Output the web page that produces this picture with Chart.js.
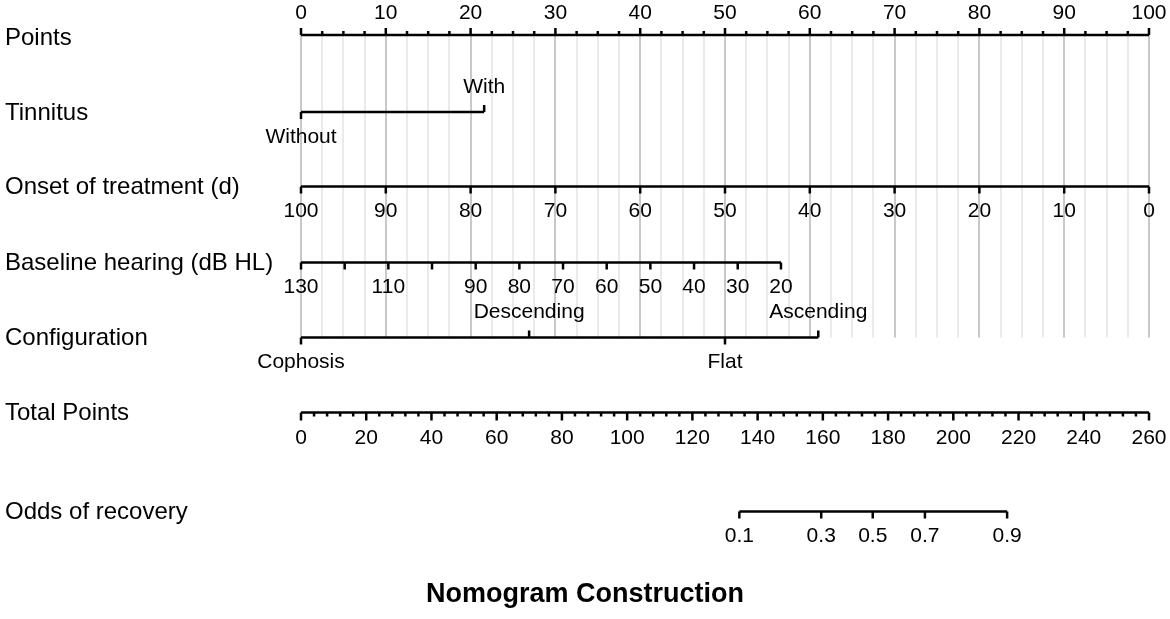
<!DOCTYPE html>
<html>
<head>
<meta charset="utf-8">
<script src="https://cdn.jsdelivr.net/npm/chart.js@4.4.1/dist/chart.umd.min.js"></script>
<style>
  html, body { margin: 0; padding: 0; background: #fff; }
  canvas { display: block; }
</style>
</head>
<body>
<canvas id="nomogram" width="1170" height="619"></canvas>
<script>
// --- Data ---
const pointsTicks = [0, 10, 20, 30, 40, 50, 60, 70, 80, 90, 100];

const tinnitusLabels = ['Without', 'With'];
const tinnitusPoints = [0, 21.6];

const onsetTicks = [100, 90, 80, 70, 60, 50, 40, 30, 20, 10, 0];
const onsetPoints = [0, 10, 20, 30, 40, 50, 60, 70, 80, 90, 100];

const hearingTicks = [130, 120, 110, 100, 90, 80, 70, 60, 50, 40, 30, 20];
const hearingLabels = ['130', '', '110', '', '90', '80', '70', '60', '50', '40', '30', '20'];
const hearingPoints = [0, 5.15, 10.3, 15.45, 20.6, 25.75, 30.9, 36.05, 41.2, 46.35, 51.5, 56.6];

const configLabels = ['Cophosis', 'Descending', 'Flat', 'Ascending'];
const configPoints = [0, 26.9, 50.0, 61.0];

const totalTicks = [0, 20, 40, 60, 80, 100, 120, 140, 160, 180, 200, 220, 240, 260];

const oddsLabels = ['0.1', '0.3', '0.5', '0.7', '0.9'];
const oddsTotalPoints = [134.4, 159.5, 175.3, 191.3, 216.5];

const rowNames = ['Points', 'Tinnitus', 'Onset of treatment (d)', 'Baseline hearing (dB HL)',
                  'Configuration', 'Total Points', 'Odds of recovery'];

// --- Layout (pixel rows, the y scale runs 0..619 top to bottom) ---
const ROW_Y = [35, 112, 186.5, 262.5, 337.5, 412.5, 511.5];
const NAME_SHIFT = [2, 0, -0.5, 0, -0.5, 0, 0];
const FONT = "'Liberation Sans', Arial, sans-serif";
const TICK_LEN = 7;
const MINOR_LEN = 4;
const LABEL_GAP = 24;

function axisLine(x0, x1, y, axisId) {
    return {
        data: [{ x: x0, y: y }, { x: x1, y: y }],
        xAxisID: axisId,
        showLine: true,
        borderColor: '#000',
        borderWidth: 2.5,
        pointRadius: 0,
        borderCapStyle: 'butt'
    };
}

const datasets = [
    axisLine(pointsTicks[0], pointsTicks[pointsTicks.length - 1], ROW_Y[0], 'x'),
    axisLine(tinnitusPoints[0], tinnitusPoints[tinnitusPoints.length - 1], ROW_Y[1], 'x'),
    axisLine(onsetPoints[0], onsetPoints[onsetPoints.length - 1], ROW_Y[2], 'x'),
    axisLine(hearingPoints[0], hearingPoints[hearingPoints.length - 1], ROW_Y[3], 'x'),
    axisLine(configPoints[0], configPoints[configPoints.length - 1], ROW_Y[4], 'x'),
    axisLine(totalTicks[0], totalTicks[totalTicks.length - 1], ROW_Y[5], 'xt'),
    axisLine(oddsTotalPoints[0], oddsTotalPoints[oddsTotalPoints.length - 1], ROW_Y[6], 'xt')
];

// --- Drawing helpers ---
function tick(ctx, px, y, len, up) {
    ctx.beginPath();
    ctx.moveTo(px, y);
    ctx.lineTo(px, up ? y - len : y + len);
    ctx.stroke();
}

function label(ctx, text, px, y) {
    ctx.fillText(text, px, y);
}

const gridPlugin = {
    id: 'nomoGrid',
    beforeDatasetsDraw(chart) {
        const ctx = chart.ctx;
        const x = chart.scales.x;
        const y = chart.scales.y;
        const top = y.getPixelForValue(ROW_Y[0]);
        const bottom = y.getPixelForValue(ROW_Y[4]);
        ctx.save();
        ctx.lineWidth = 2;
        for (let v = 0; v <= 100; v += 2.5) {
            const px = Math.round(x.getPixelForValue(v));
            ctx.strokeStyle = (v % 10 === 0) ? '#c8c8c8' : '#eaeaea';
            ctx.beginPath();
            ctx.moveTo(px, top);
            ctx.lineTo(px, bottom);
            ctx.stroke();
        }
        ctx.restore();
    }
};

const axesPlugin = {
    id: 'nomoAxes',
    afterDatasetsDraw(chart) {
        const ctx = chart.ctx;
        const x = chart.scales.x;
        const xt = chart.scales.xt;
        const ys = chart.scales.y;
        const rowY = ROW_Y.map(v => ys.getPixelForValue(v));

        ctx.save();
        ctx.strokeStyle = '#000';
        ctx.fillStyle = '#000';
        ctx.lineWidth = 2.5;
        ctx.lineCap = 'butt';
        ctx.textAlign = 'center';
        ctx.textBaseline = 'middle';
        ctx.font = '21px ' + FONT;

        // Points (ticks and labels above)
        for (let v = 0; v <= 100; v += 2.5) {
            tick(ctx, x.getPixelForValue(v), rowY[0], v % 10 === 0 ? TICK_LEN : MINOR_LEN, true);
        }
        pointsTicks.forEach(v => label(ctx, String(v), x.getPixelForValue(v), rowY[0] - 22));

        // Tinnitus (alternating)
        tinnitusPoints.forEach((p, i) => {
            const up = i % 2 === 1;
            const px = x.getPixelForValue(p);
            tick(ctx, px, rowY[1], TICK_LEN, up);
            label(ctx, tinnitusLabels[i], px, up ? rowY[1] - LABEL_GAP - 1 : rowY[1] + LABEL_GAP + 1);
        });

        // Onset of treatment
        onsetPoints.forEach((p, i) => {
            const px = x.getPixelForValue(p);
            tick(ctx, px, rowY[2], TICK_LEN, false);
            label(ctx, String(onsetTicks[i]), px, rowY[2] + 25);
        });

        // Baseline hearing
        hearingPoints.forEach((p, i) => {
            const px = x.getPixelForValue(p);
            tick(ctx, px, rowY[3], TICK_LEN, false);
            if (hearingLabels[i]) label(ctx, hearingLabels[i], px, rowY[3] + 25);
        });

        // Configuration (alternating)
        configPoints.forEach((p, i) => {
            const up = i % 2 === 1;
            const px = x.getPixelForValue(p);
            tick(ctx, px, rowY[4], TICK_LEN, up);
            label(ctx, configLabels[i], px, up ? rowY[4] - LABEL_GAP - 1 : rowY[4] + LABEL_GAP + 1);
        });

        // Total Points
        for (let v = 0; v <= 260; v += 4) {
            tick(ctx, xt.getPixelForValue(v), rowY[5], v % 20 === 0 ? TICK_LEN + 1 : MINOR_LEN, false);
        }
        totalTicks.forEach(v => label(ctx, String(v), xt.getPixelForValue(v), rowY[5] + 25.5));

        // Odds of recovery
        oddsTotalPoints.forEach((p, i) => {
            const px = xt.getPixelForValue(p);
            tick(ctx, px, rowY[6], TICK_LEN, false);
            label(ctx, oddsLabels[i], px, rowY[6] + 25);
        });

        // Row names
        ctx.textAlign = 'left';
        ctx.font = '24px ' + FONT;
        rowNames.forEach((name, i) => label(ctx, name, 5, rowY[i] + 1 + NAME_SHIFT[i]));

        // Title
        ctx.textAlign = 'center';
        ctx.textBaseline = 'alphabetic';
        ctx.font = 'bold 27px ' + FONT;
        ctx.fillText('Nomogram Construction', chart.width / 2, 602);
        ctx.restore();
    }
};

new Chart(document.getElementById('nomogram'), {
    type: 'scatter',
    data: { datasets: datasets },
    options: {
        responsive: false,
        animation: false,
        devicePixelRatio: 1,
        layout: { padding: { left: 301, right: 21, top: 0, bottom: 0 } },
        plugins: {
            legend: { display: false },
            tooltip: { enabled: false },
            title: { display: false }
        },
        scales: {
            x: { type: 'linear', min: 0, max: 100, display: false },
            xt: { type: 'linear', axis: 'x', min: 0, max: 260, display: false },
            y: { type: 'linear', min: 0, max: 619, reverse: true, display: false }
        }
    },
    plugins: [gridPlugin, axesPlugin]
});
</script>
</body>
</html>
